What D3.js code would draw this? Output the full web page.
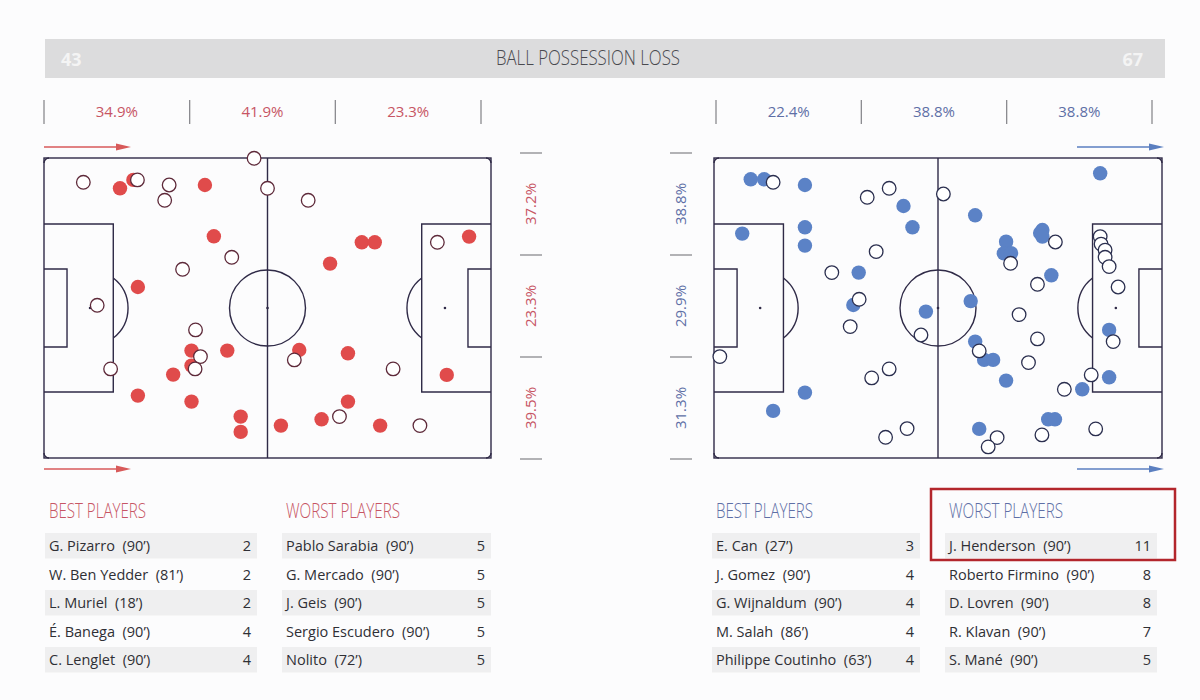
<!DOCTYPE html>
<html>
<head>
<meta charset="utf-8">
<script src="https://cdn.jsdelivr.net/npm/d3@7"></script>
<style>
  html, body { margin: 0; padding: 0; background: #fcfcfd; }
  svg { display: block; font-family: "Open Sans", "Noto Sans", sans-serif; }
  .pre { white-space: pre; }
</style>
</head>
<body>
<svg id="chart" width="1200" height="700"></svg>
<script>
// ---------------- DATA ----------------
const title = "BALL POSSESSION LOSS";
const homeTotal = "43";
const awayTotal = "67";

// pitch coordinates in 0-100 units (x: own goal -> opponent goal, y: top -> bottom)
const homeFilled = [
  [17.0,10.1],[20.0,7.3],[36.0,9.0],[38.0,26.1],[21.0,43.0],[71.1,28.1],[74.0,28.1],
  [64.0,35.2],[95.1,26.2],[33.0,64.2],[33.0,69.2],[41.0,64.2],[28.9,72.2],[21.0,79.2],
  [33.0,81.2],[44.0,86.2],[44.0,91.3],[53.0,89.2],[57.1,64.0],[68.0,65.1],[90.1,72.3],
  [68.0,81.2],[62.1,87.1],[75.2,89.2]
];
const homeHollow = [
  [8.8,8.1],[20.9,7.3],[28.0,9.0],[27.0,14.1],[47.0,0.1],[50.0,10.1],[42.0,33.1],
  [31.0,37.1],[11.9,49.1],[59.1,14.1],[88.0,28.1],[33.9,57.3],[35.0,66.2],[33.8,70.3],
  [14.9,70.3],[56.0,67.3],[78.1,70.3],[66.1,86.2],[84.1,89.2]
];
const awayFilled = [
  [8.2,7.1],[11.2,7.1],[20.3,9.0],[6.3,25.2],[20.3,23.1],[20.3,29.2],[42.3,16.0],
  [44.3,23.1],[32.3,38.2],[31.1,49.0],[47.3,51.2],[86.2,5.1],[58.3,19.1],[65.2,27.9],
  [64.7,31.8],[66.3,31.7],[73.3,24.0],[72.8,25.0],[73.3,26.2],[75.3,39.1],[57.3,47.7],
  [20.3,78.2],[13.2,84.3],[58.3,61.2],[60.3,67.3],[62.3,67.3],[65.2,74.2],[88.2,57.3],
  [88.2,73.1],[82.2,77.1],[74.6,87.1],[76.1,87.1],[59.2,90.3]
];
const awayHollow = [
  [13.2,8.1],[34.2,13.1],[39.1,10.1],[36.2,31.2],[26.3,38.2],[32.4,47.1],[51.2,12.0],
  [66.2,35.1],[76.2,28.0],[72.2,42.1],[86.2,26.2],[86.4,28.7],[87.3,30.7],[87.3,33.1],
  [88.2,36.2],[90.2,43.0],[30.4,56.2],[46.2,59.0],[1.3,66.2],[39.1,70.3],[35.2,73.3],
  [43.1,90.2],[38.3,93.1],[68.1,52.2],[72.2,60.3],[59.2,64.3],[70.2,68.2],[89.1,61.2],
  [84.2,72.3],[78.2,77.1],[73.2,92.3],[85.2,90.3],[63.2,93.2],[61.2,96.3]
];

const homeThirdsX = ["34.9%","41.9%","23.3%"];
const homeThirdsY = ["37.2%","23.3%","39.5%"];
const awayThirdsX = ["22.4%","38.8%","38.8%"];
const awayThirdsY = ["38.8%","29.9%","31.3%"];

const homeBestNames = ["G. Pizarro  (90’)","W. Ben Yedder  (81’)","L. Muriel  (18’)","É. Banega  (90’)","C. Lenglet  (90’)"];
const homeBestValues = [2,2,2,4,4];
const homeWorstNames = ["Pablo Sarabia  (90’)","G. Mercado  (90’)","J. Geis  (90’)","Sergio Escudero  (90’)","Nolito  (72’)"];
const homeWorstValues = [5,5,5,5,5];
const awayBestNames = ["E. Can  (27’)","J. Gomez  (90’)","G. Wijnaldum  (90’)","M. Salah  (86’)","Philippe Coutinho  (63’)"];
const awayBestValues = [3,4,4,4,4];
const awayWorstNames = ["J. Henderson  (90’)","Roberto Firmino  (90’)","D. Lovren  (90’)","R. Klavan  (90’)","S. Mané  (90’)"];
const awayWorstValues = [11,8,8,7,5];

// ---------------- STYLE ----------------
const RED = "#e04b4b", RED_TXT = "#c75564", RED_RING = "#5e2a3a";
const BLUE = "#5b82c6", BLUE_TXT = "#5e6fa6", BLUE_RING = "#2b2f4f";
const LINE = "#2f2a47";

const svg = d3.select("#chart");

// Header bar
const hdr = { x0: 45, x1: 1165, y0: 39, y1: 78 };
svg.append("rect").attr("x", hdr.x0).attr("y", hdr.y0)
  .attr("width", hdr.x1 - hdr.x0).attr("height", hdr.y1 - hdr.y0).attr("fill", "#dcdcdd");
svg.append("text").attr("x", 588).attr("y", 65)
  .attr("text-anchor", "middle").attr("font-size", 20).attr("font-weight", 300)
  .attr("fill", "#4a4a4f").attr("textLength", 184).attr("lengthAdjust", "spacingAndGlyphs")
  .text(title);
svg.append("text").attr("x", 61).attr("y", 66).attr("font-size", 18).attr("font-weight", 700)
  .attr("fill", "#f4f4f4").text(homeTotal);
svg.append("text").attr("x", 1143).attr("y", 66).attr("text-anchor", "end").attr("font-size", 18)
  .attr("font-weight", 700).attr("fill", "#f4f4f4").text(awayTotal);

const y = d3.scaleLinear().domain([0, 100]).range([158, 458]);

function drawPitch(g, x) {
  const boxD = 15.5, goalD = 5.15, spotD = 10.3;
  const r = 38;
  const stroke = { stroke: LINE, "stroke-width": 1.4, fill: "none" };
  const ap = (sel, o) => { for (const k in o) sel.attr(k, o[k]); return sel; };

  ap(g.append("rect").attr("x", x(0)).attr("y", y(0)).attr("width", x(100) - x(0)).attr("height", y(100) - y(0)), stroke);
  ap(g.append("line").attr("x1", x(50)).attr("x2", x(50)).attr("y1", y(0)).attr("y2", y(100)), stroke);
  ap(g.append("circle").attr("cx", x(50)).attr("cy", y(50)).attr("r", r), stroke);
  g.append("circle").attr("cx", x(50)).attr("cy", y(50)).attr("r", 1.3).attr("fill", LINE);

  [0, 1].forEach(side => {
    const s = side === 0 ? 1 : -1;
    const gx = side === 0 ? 0 : 100;
    ap(g.append("path").attr("d",
      `M${x(gx)},${y(22)}H${x(gx + s * boxD)}V${y(78)}H${x(gx)}`), stroke);
    ap(g.append("path").attr("d",
      `M${x(gx)},${y(37)}H${x(gx + s * goalD)}V${y(63)}H${x(gx)}`), stroke);
    const sx = x(gx + s * spotD), sy = y(50);
    g.append("circle").attr("cx", sx).attr("cy", sy).attr("r", 1.3).attr("fill", LINE);
    const bx = x(gx + s * boxD);
    const dx = Math.abs(bx - sx);
    const dy = Math.sqrt(r * r - dx * dx);
    ap(g.append("path").attr("d",
      `M${bx},${sy - dy}A${r},${r} 0 0 ${side === 0 ? 1 : 0} ${bx},${sy + dy}`), stroke);
    const cr = 5;
    [0, 100].forEach(cy => {
      const vy = cy === 0 ? 1 : -1;
      const px = x(gx), py = y(cy);
      const sweep = (s * vy > 0) ? 0 : 1;
      ap(g.append("path").attr("d",
        `M${px + s * cr},${py}A${cr},${cr} 0 0 ${sweep} ${px},${py + vy * cr}`), stroke);
    });
  });
}

function drawDots(g, x, filled, hollow, fillC, ringC) {
  g.selectAll(null).data(filled).join("circle")
    .attr("cx", d => x(d[0])).attr("cy", d => y(d[1])).attr("r", 7.2)
    .attr("fill", fillC);
  g.selectAll(null).data(hollow).join("circle")
    .attr("cx", d => x(d[0])).attr("cy", d => y(d[1])).attr("r", 6.8)
    .attr("fill", "#ffffff").attr("stroke", ringC).attr("stroke-width", 1.3);
}

function drawArrow(g, x0, x1, yy, color) {
  g.append("line").attr("x1", x0).attr("x2", x1 - 8).attr("y1", yy).attr("y2", yy)
    .attr("stroke", color).attr("stroke-width", 1.5);
  g.append("path").attr("d", `M${x1 - 15},${yy - 3.5}L${x1},${yy}L${x1 - 15},${yy + 3.5}Z`).attr("fill", color);
}

function drawZones(g, topScale, labelsX, sideX, labelsY, color) {
  const idx = [0, 1, 2, 3];
  g.selectAll(null).data(idx).join("line")
    .attr("x1", d => topScale(d)).attr("x2", d => topScale(d))
    .attr("y1", 100).attr("y2", 124).attr("stroke", "#8a8a8f").attr("stroke-width", 1.3);
  g.selectAll(null).data(labelsX).join("text")
    .attr("x", (d, i) => topScale(i + 0.5)).attr("y", 117).attr("text-anchor", "middle")
    .attr("font-size", 15).attr("fill", color).text(d => d);
  const sideScale = d3.scaleLinear().domain([0, 3]).range([153, 459]);
  g.selectAll(null).data(idx).join("line")
    .attr("x1", sideX - 11).attr("x2", sideX + 11)
    .attr("y1", d => sideScale(d)).attr("y2", d => sideScale(d))
    .attr("stroke", "#8a8a8f").attr("stroke-width", 1.3);
  g.selectAll(null).data(labelsY).join("text")
    .attr("transform", (d, i) => `translate(${sideX + 5},${sideScale(i + 0.5)}) rotate(-90)`)
    .attr("text-anchor", "middle").attr("font-size", 15).attr("fill", color).text(d => d);
}

function drawTable(g, x0, x1, y0, heading, names, values, color) {
  g.append("text").attr("x", x0 + 4).attr("y", y0 - 15).attr("font-size", 20).attr("font-weight", 300)
    .attr("fill", color).attr("textLength", heading.length > 12 ? 114 : 97)
    .attr("lengthAdjust", "spacingAndGlyphs").text(heading);
  const rowY = d3.scaleLinear().domain([0, 1]).range([y0, y0 + 28.5]);
  const rows = g.selectAll(null).data(names).join("g");
  rows.filter((d, i) => i % 2 === 0).append("rect")
    .attr("x", x0).attr("y", (d, i) => rowY(i * 2)).attr("width", x1 - x0).attr("height", 25.5)
    .attr("fill", "#efeff0");
  g.selectAll(null).data(names).join("text").attr("class", "pre")
    .attr("x", x0 + 4).attr("y", (d, i) => rowY(i) + 18).attr("font-size", 14.5).attr("fill", "#2f2f35")
    .text(d => d);
  g.selectAll(null).data(values).join("text")
    .attr("x", x1 - 6).attr("y", (d, i) => rowY(i) + 18).attr("text-anchor", "end")
    .attr("font-size", 14.5).attr("fill", "#2f2f35").text(d => d);
}

// Home (left)
const xL = d3.scaleLinear().domain([0, 100]).range([44, 491]);
const gL = svg.append("g");
drawZones(gL, d3.scaleLinear().domain([0, 3]).range([44, 481]), homeThirdsX, 531, homeThirdsY, RED_TXT);
drawArrow(gL, 44, 131, 147, "#d85a5a");
drawArrow(gL, 44, 131, 469, "#d85a5a");
drawPitch(gL, xL);
drawDots(gL, xL, homeFilled, homeHollow, RED, RED_RING);

// Away (right)
const xR = d3.scaleLinear().domain([0, 100]).range([714, 1162]);
const gR = svg.append("g");
drawZones(gR, d3.scaleLinear().domain([0, 3]).range([716, 1152]), awayThirdsX, 681, awayThirdsY, BLUE_TXT);
drawArrow(gR, 1077, 1164, 147, "#5b7fc0");
drawArrow(gR, 1077, 1164, 469, "#5b7fc0");
drawPitch(gR, xR);
drawDots(gR, xR, awayFilled, awayHollow, BLUE, BLUE_RING);

// Tables
drawTable(svg.append("g"), 45, 257, 533, "BEST PLAYERS", homeBestNames, homeBestValues, RED_TXT);
drawTable(svg.append("g"), 282, 491, 533, "WORST PLAYERS", homeWorstNames, homeWorstValues, RED_TXT);
drawTable(svg.append("g"), 712, 920, 533, "BEST PLAYERS", awayBestNames, awayBestValues, BLUE_TXT);
drawTable(svg.append("g"), 945, 1157, 533, "WORST PLAYERS", awayWorstNames, awayWorstValues, BLUE_TXT);

// highlight box
svg.append("rect").attr("x", 931).attr("y", 489).attr("width", 244).attr("height", 71)
  .attr("fill", "none").attr("stroke", "#b3262c").attr("stroke-width", 2.5);
</script>
</body>
</html>
